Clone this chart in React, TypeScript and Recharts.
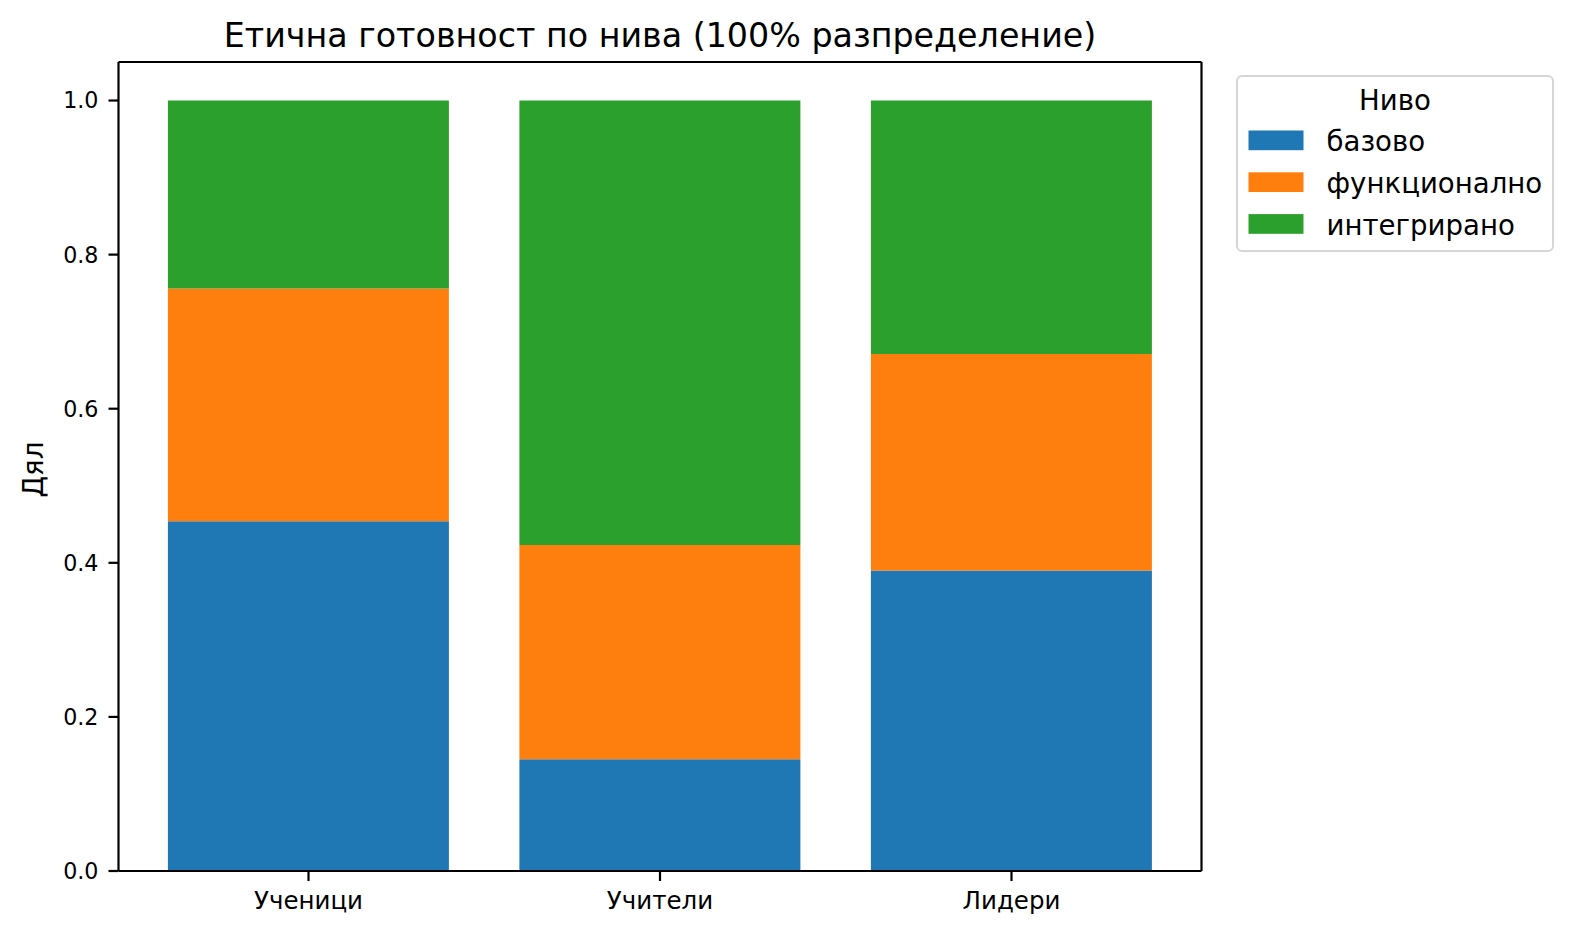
import React from 'react';
import { BarChart, Bar, XAxis, YAxis, Legend } from 'recharts';

const groups = ['Ученици', 'Учители', 'Лидери'];
const levels = ['базово', 'функционално', 'интегрирано'];
const basic = [0.454, 0.145, 0.39];
const functional = [0.302, 0.278, 0.281];
const integrated = [0.244, 0.577, 0.329];
const yTicks = [0, 0.2, 0.4, 0.6, 0.8, 1.0];
const colors = ['#1f77b4', '#ff7f0e', '#2ca02c'];
const keys = ['basic', 'functional', 'integrated'];
const title = 'Етична готовност по нива (100% разпределение)';
const yLabel = 'Дял';
const legendTitle = 'Ниво';

const rows = groups.map((g, i) => ({
  group: g,
  basic: basic[i],
  functional: functional[i],
  integrated: integrated[i],
}));

const FONT = 'DejaVu Sans, sans-serif';

const TitleLabel = (props: any) => {
  const vb = props.viewBox || { x: 118.5, y: 61, width: 1083, height: 1 };
  return (
    <text
      x={vb.x + vb.width / 2}
      y={vb.y + vb.height - 15.5}
      textAnchor="middle"
      fontSize={33.3}
      fontFamily={FONT}
      fill="#000"
    >
      {title}
    </text>
  );
};

const YLabel = (props: any) => {
  const vb = props.viewBox || { x: 0, y: 62, width: 118.5, height: 809 };
  const cx = vb.x + 43;
  const cy = vb.y + vb.height / 2 + 3;
  return (
    <text
      x={cx}
      y={cy}
      textAnchor="middle"
      fontSize={27.8}
      fontFamily={FONT}
      fill="#000"
      transform={`rotate(-90, ${cx}, ${cy})`}
    >
      {yLabel}
    </text>
  );
};

const LegendBox = () => (
  <svg width={318} height={177} style={{ display: 'block' }}>
    <rect x={1} y={1} width={316} height={175} rx={5} ry={5} fill="#fff" stroke="#d6d6d6" strokeWidth={2} />
    <text x={159} y={35} textAnchor="middle" fontSize={27.6} fontFamily={FONT} fill="#000">
      {legendTitle}
    </text>
    {levels.map((name, i) => (
      <g key={name}>
        <rect x={12.5} y={55.5 + i * 41.8} width={55} height={19.7} fill={colors[i]} />
        <text x={90.5} y={76 + i * 41.8} fontSize={27.6} fontFamily={FONT} fill="#000">
          {name}
        </text>
      </g>
    ))}
  </svg>
);

export default function App() {
  return (
    <div style={{ position: 'absolute', left: 0, top: 0, width: 1573, height: 935, background: '#fff', fontFamily: FONT }}>
      <BarChart
        width={1573}
        height={935}
        data={rows}
        margin={{ top: 61, right: 370.5, bottom: 0, left: 0 }}
        barCategoryGap="10%"
      >
        <XAxis
          dataKey="group"
          height={64}
          padding={{ left: 14.25, right: 14.25 }}
          tickSize={10}
          tickMargin={11}
          axisLine={{ stroke: '#000', strokeWidth: 2.2 }}
          tickLine={{ stroke: '#000', strokeWidth: 2.2 }}
          tick={{ fill: '#000', fontSize: 24.5, fontFamily: FONT }}
          interval={0}
        />
        <XAxis
          xAxisId="top"
          dataKey="group"
          orientation="top"
          height={1}
          tickLine={false}
          tick={() => <g />}
          axisLine={{ stroke: '#000', strokeWidth: 2.2 }}
          label={{ content: TitleLabel }}
        />
        <YAxis
          width={118.5}
          domain={[0, 1.05]}
          ticks={yTicks}
          allowDataOverflow
          tickSize={10}
          tickMargin={10}
          tickFormatter={(v: number) => v.toFixed(1)}
          axisLine={{ stroke: '#000', strokeWidth: 2.2 }}
          tickLine={{ stroke: '#000', strokeWidth: 2.2 }}
          tick={{ fill: '#000', fontSize: 22.2, fontFamily: FONT }}
          label={{ content: YLabel }}
        />
        <YAxis
          yAxisId="right"
          orientation="right"
          width={1}
          domain={[0, 1.05]}
          tickLine={false}
          tick={() => <g />}
          axisLine={{ stroke: '#000', strokeWidth: 2.2 }}
        />
        <Legend
          layout="vertical"
          align="center"
          verticalAlign="middle"
          width={318}
          height={177}
          wrapperStyle={{ left: 1236, top: 75, width: 318, height: 177 }}
          content={LegendBox}
        />
        <Bar dataKey={keys[0]} name={levels[0]} stackId="s" fill={colors[0]} isAnimationActive={false} />
        <Bar dataKey={keys[1]} name={levels[1]} stackId="s" fill={colors[1]} isAnimationActive={false} />
        <Bar dataKey={keys[2]} name={levels[2]} stackId="s" fill={colors[2]} isAnimationActive={false} />
      </BarChart>
    </div>
  );
}
